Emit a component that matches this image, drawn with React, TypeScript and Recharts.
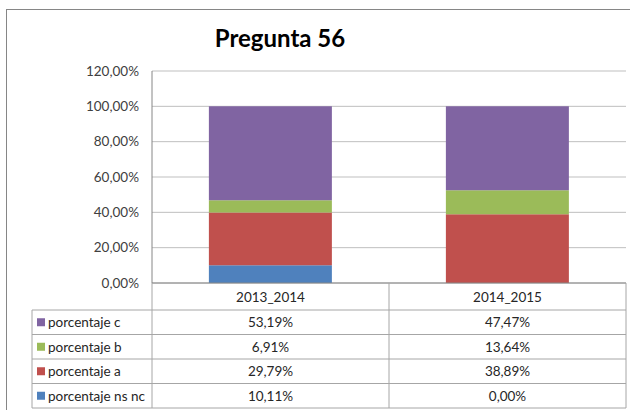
import { BarChart, Bar, XAxis, YAxis, CartesianGrid } from 'recharts';

const periods = ['2013_2014', '2014_2015'];
const porcentajeNsNc = [0.1011, 0.0];
const porcentajeA = [0.2979, 0.3889];
const porcentajeB = [0.0691, 0.1364];
const porcentajeC = [0.5319, 0.4747];
const yTicks = [0, 0.2, 0.4, 0.6, 0.8, 1.0, 1.2];

// filas de la tabla, de arriba a abajo como en el original
const series = [
  { key: 'c', name: 'porcentaje c', color: '#8064A2', values: porcentajeC },
  { key: 'b', name: 'porcentaje b', color: '#9BBB59', values: porcentajeB },
  { key: 'a', name: 'porcentaje a', color: '#C0504D', values: porcentajeA },
  { key: 'nsnc', name: 'porcentaje ns nc', color: '#4F81BD', values: porcentajeNsNc },
];

const data = periods.map((p, i) => ({
  period: p,
  nsnc: porcentajeNsNc[i],
  a: porcentajeA[i],
  b: porcentajeB[i],
  c: porcentajeC[i],
}));

const W = 630;
const H = 410;
const M = { top: 71, right: 4, left: 0, bottom: 0 };
const Y_AXIS_W = 152;
const X_AXIS_H = 127;
const colW = (W - M.left - M.right - Y_AXIS_W) / periods.length;
const headerH = 27;
const rowH = 24.5;
const legendLeft = 32;
const FONT = 'Lato, "Open Sans", sans-serif';
const FS = 13.5;
const BORDER = '#a6a6a6';
const TEXT = '#262626';

const fmt = (v: number) => (v * 100).toFixed(2).replace('.', ',') + '%';

function TableColumn(props: any) {
  const { x, y, index, payload } = props;
  const left = x - colW / 2;
  const right = x + colW / 2;
  const bottom = y + headerH + rowH * series.length;
  const i = payload.index ?? index;
  return (
    <g fontFamily={FONT} fontSize={FS} fill={TEXT}>
      <line x1={right} y1={y} x2={right} y2={bottom} stroke={BORDER} />
      {i === 0 && <line x1={left} y1={y} x2={left} y2={bottom} stroke={BORDER} />}
      <text x={x} y={y + headerH / 2} textAnchor="middle" dominantBaseline="central" fill={TEXT}>
        {payload.value}
      </text>
      {series.map((s, r) => {
        const top = y + headerH + rowH * r;
        return (
          <g key={s.key}>
            <line x1={i === 0 ? legendLeft : left} y1={top} x2={right} y2={top} stroke={BORDER} />
            <text x={x} y={top + rowH / 2} textAnchor="middle" dominantBaseline="central" fill={TEXT}>
              {fmt(s.values[i])}
            </text>
            {i === 0 && (
              <g>
                <rect x={legendLeft + 5} y={top + rowH / 2 - 4} width={8} height={8} fill={s.color} />
                <text x={legendLeft + 16} y={top + rowH / 2} dominantBaseline="central" fill={TEXT}>
                  {s.name}
                </text>
              </g>
            )}
          </g>
        );
      })}
      <line x1={i === 0 ? legendLeft : left} y1={bottom} x2={right} y2={bottom} stroke={BORDER} />
      {i === 0 && <line x1={legendLeft} y1={y + headerH} x2={legendLeft} y2={bottom} stroke={BORDER} />}
    </g>
  );
}

export default function App() {
  return (
    <div style={{ position: 'absolute', left: 0, top: 0, width: W, height: H, overflow: 'hidden', background: '#fff' }}>
      <div
        style={{
          position: 'absolute',
          left: 6,
          top: 9,
          width: W + 20,
          height: H + 20,
          border: '1.5px solid #868686',
          boxSizing: 'border-box',
        }}
      />
      <div
        style={{
          position: 'absolute',
          left: 180,
          width: 200,
          top: 23,
          textAlign: 'center',
          fontFamily: FONT,
          fontWeight: 700,
          fontSize: 24,
          color: '#000',
        }}
      >
        Pregunta 56
      </div>
      <div style={{ position: 'absolute', left: 0, top: 0 }}>
        <BarChart width={W} height={H} data={data} margin={M} barCategoryGap="24%">
          <CartesianGrid horizontal vertical={false} stroke="#bfbfbf" />
          <XAxis
            dataKey="period"
            height={X_AXIS_H}
            interval={0}
            tickLine={false}
            tickSize={0}
            tickMargin={0}
            axisLine={{ stroke: '#868686' }}
            tick={(p: any) => <TableColumn {...p} />}
          />
          <YAxis
            width={Y_AXIS_W}
            domain={[0, 1.2]}
            ticks={yTicks}
            tickFormatter={fmt}
            tickLine={false}
            tickMargin={7}
            axisLine={{ stroke: '#868686' }}
            tick={{ fontFamily: FONT, fontSize: FS, fill: '#404040' }}
          />
          <Bar dataKey="nsnc" stackId="s" fill="#4F81BD" isAnimationActive={false} />
          <Bar dataKey="a" stackId="s" fill="#C0504D" isAnimationActive={false} />
          <Bar dataKey="b" stackId="s" fill="#9BBB59" isAnimationActive={false} />
          <Bar dataKey="c" stackId="s" fill="#8064A2" isAnimationActive={false} />
        </BarChart>
      </div>
    </div>
  );
}
